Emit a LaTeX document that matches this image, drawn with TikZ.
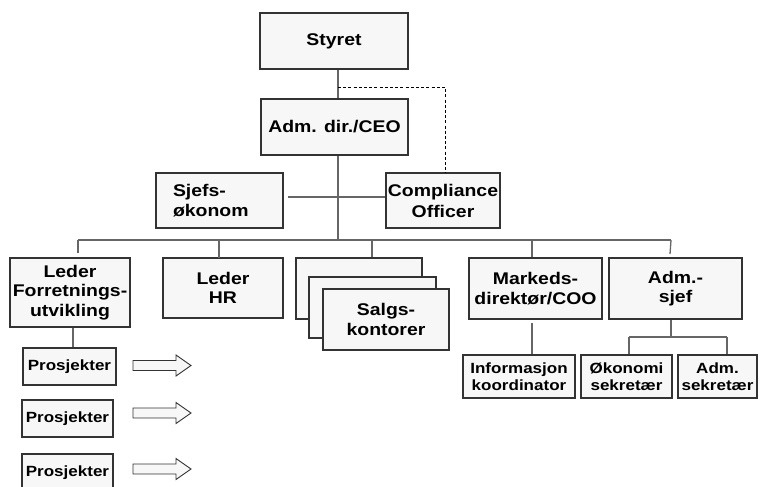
\documentclass[tikz,border=0pt]{standalone}
\usepackage{fontspec}
\newfontfamily\bx[FakeStretch=1.15]{Liberation Sans}
\definecolor{boxc}{HTML}{333333}
\definecolor{boxfill}{HTML}{F7F7F7}
\definecolor{linec}{HTML}{666666}
\begin{document}
\begin{tikzpicture}[x=1pt,y=-1pt,
  box/.style={draw=boxc, fill=boxfill, line width=1.1pt, inner sep=0pt, align=center,
    font=\bx\bfseries\fontsize{16.9}{19.5}\selectfont},
  sbox/.style={box, font=\bx\bfseries\fontsize{14.8}{16.5}\selectfont},
  conn/.style={draw=linec, line width=1.3pt},
  barrow/.style={draw=boxc, fill=boxfill, line width=0.9pt, line join=miter}]
\useasboundingbox (0,0) rectangle (760,487);
\clip (0,0) rectangle (760,487);

% top
\node[box, minimum width=148, minimum height=56] (styret) at (334,41) {Styret};
\node[box, minimum width=147, minimum height=56] (ceo) at (334.5,127) {Adm. dir./CEO};
\node[box, minimum width=114, minimum height=55, font=\bx\bfseries\fontsize{16.9}{21}\selectfont] (comp) at (443,200.5) {Compliance\\Officer};
\node[box, minimum width=127, minimum height=55, align=left, text width=93, font=\bx\bfseries\fontsize{16.9}{20}\selectfont] (sjefs) at (219.5,200.5) {Sjefs-\\økonom};

% second level
\node[box, minimum width=120, minimum height=69] (forr) at (70,292.5) {Leder\\Forretnings-\\utvikling};
\node[box, minimum width=120, minimum height=60] (hr) at (223,288) {Leder\\HR};
\node[box, minimum width=126, minimum height=61] (salgsA) at (359,288.5) {};
\node[box, minimum width=127, minimum height=61] (salgsB) at (372.5,307.5) {};
\node[box, minimum width=126, minimum height=61] (salgs) at (386,319.5) {Salgs-\\kontorer};
\node[box, minimum width=133, minimum height=61] (marked) at (535.5,288.5) {Markeds-\\direktør/COO};
\node[box, minimum width=133, minimum height=61] (admsjef) at (675.5,288.5) {Adm.-\\sjef};

% third level
\node[sbox, minimum width=112, minimum height=43] (info) at (519,376.5) {Informasjon\\koordinator};
\node[sbox, minimum width=91, minimum height=43] (okon) at (626.5,376.5) {Økonomi\\sekretær};
\node[sbox, minimum width=79, minimum height=43] (admsek) at (717.5,376.5) {Adm.\\sekretær};

% projects
\node[sbox, minimum width=93, minimum height=37] (p1) at (69.5,366.5) {Prosjekter};
\node[sbox, minimum width=91, minimum height=37] (p2) at (67.5,418.5) {Prosjekter};
\node[sbox, minimum width=91, minimum height=37] (p3) at (67.5,472.5) {Prosjekter};

% coordinates
\coordinate (spine) at (338,0);
\coordinate (dj) at (338,87);
\coordinate (dk) at (445,87);
\coordinate (sjl) at (288,197);
\coordinate (busL) at (78,240);
\coordinate (busR) at (671,240);
\coordinate (dropF) at (78,253);
\coordinate (dropA) at (670,254);
\coordinate (mk) at (532,323);
\coordinate (ajL) at (629,337);
\coordinate (ajR) at (727,337);
\coordinate (aj) at (671,337);

% connectors
\draw[conn] (styret.south -| spine) -- (ceo.north -| spine);
\draw[draw=black, line width=0.9pt, dash pattern=on 3pt off 2.2pt] (dj) -- (dk) -- (dk |- comp.north);
\draw[conn] (ceo.south -| spine) -- (spine |- busL);
\draw[conn] (sjl) -- (sjl -| comp.west);
\draw[conn] (busL) -- (busR);
\draw[conn] (busL) -- (dropF);
\draw[conn] (219,240) -- (219,258);
\draw[conn] (372,240) -- (salgsA.north -| 372,0);
\draw[conn] (532,240) -- (marked.north -| 532,0);
\draw[conn] (busR) -- (dropA);
\draw[conn] (forr.south -| 73,0) -- (p1.north -| 73,0);
\draw[conn] (mk) -- (mk |- info.north);
\draw[conn] (admsjef.south -| aj) -- (aj);
\draw[conn] (ajL) -- (ajR);
\draw[conn] (ajL) -- (ajL |- okon.north);
\draw[conn] (ajR) -- (ajR |- admsek.north);

% block arrows
\foreach \yy in {365.5,413,469}{
  \draw[barrow] (133,\yy-5) -- (176,\yy-5) -- (176,\yy-10.5) -- (191,\yy) -- (176,\yy+10.5) -- (176,\yy+5) -- (133,\yy+5) -- cycle;
}
\end{tikzpicture}
\end{document}
